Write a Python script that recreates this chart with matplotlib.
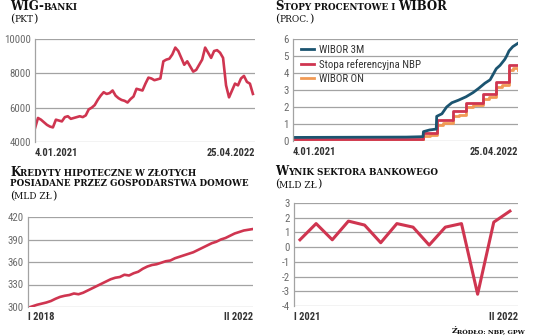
import numpy as np
import pandas as pd
import matplotlib
matplotlib.use("Agg")
import matplotlib.pyplot as plt
from matplotlib import font_manager

# --- data ---
wig_values = [4800, 5400, 5300, 5150, 5000, 4900, 4850, 5300, 5250, 5200,
              5450, 5500, 5350, 5400, 5450, 5500, 5450, 5550, 5900, 6000,
              6150, 6450, 6700, 6900, 6800, 6850, 7000, 6700, 6550, 6450,
              6400, 6300, 6500, 6650, 7100, 7050, 7000, 7400, 7750, 7700,
              7600, 7650, 7700, 8700, 8800, 8850, 9100, 9500, 9300, 8900,
              8500, 8700, 8400, 8100, 8200, 8500, 8800, 9500, 9200, 8900,
              9300, 9350, 9200, 8900, 7300, 6600, 7000, 7400, 7300, 7700,
              7850, 7500, 7400, 6800]

nbp_dates = ["2021-01-04", "2021-10-07", "2021-11-04", "2021-12-09", "2022-01-05",
             "2022-02-09", "2022-03-09", "2022-04-07", "2022-04-25"]
nbp_values = [0.1, 0.5, 1.25, 1.75, 2.25, 2.75, 3.5, 4.5, 4.5]

on_dates = ["2021-01-04", "2021-06-01", "2021-10-07", "2021-10-20", "2021-11-04",
            "2021-11-18", "2021-12-09", "2021-12-22", "2022-01-05", "2022-01-20",
            "2022-02-09", "2022-02-22", "2022-03-09", "2022-03-22", "2022-04-07",
            "2022-04-15", "2022-04-25"]
on_values = [0.02, 0.03, 0.3, 0.38, 0.95, 1.05, 1.45, 1.55, 2.0, 2.1,
             2.5, 2.6, 3.15, 3.3, 4.2, 4.3, 4.2]

w3m_dates = ["2021-01-04", "2021-09-01", "2021-09-30", "2021-10-06", "2021-10-07",
             "2021-10-20", "2021-11-03", "2021-11-04", "2021-11-15", "2021-11-25",
             "2021-12-06", "2021-12-20", "2022-01-05", "2022-01-20", "2022-02-01",
             "2022-02-14", "2022-02-25", "2022-03-03", "2022-03-10", "2022-03-18",
             "2022-03-28", "2022-04-01", "2022-04-06", "2022-04-14", "2022-04-25"]
w3m_values = [0.21, 0.23, 0.25, 0.26, 0.55, 0.65, 0.7, 1.45, 1.6, 2.0,
              2.25, 2.4, 2.6, 2.85, 3.1, 3.4, 3.6, 3.9, 4.25, 4.45,
              4.8, 5.0, 5.3, 5.55, 5.75]

mortgage = [299, 301, 303, 304.5, 306, 308, 311, 313.5, 315, 316,
            318, 317, 319, 322, 325, 328, 331, 334, 337, 339,
            340, 343, 342, 345, 347, 351, 354, 356, 357, 359,
            361, 362, 365, 367, 369, 371, 373, 376, 379, 382,
            385, 387, 390, 392, 395, 398, 400, 402, 403, 404]

bank_result = [0.5, 1.6, 0.5, 1.77, 1.5, 0.3, 1.6, 1.36, 0.14, 1.36,
               1.6, -3.2, 1.7, 2.45]

RED = "#cf3550"
TEAL = "#1b5470"
ORANGE = "#f19a55"
GRID = "#a3a3a3"
TICK = "#6a6a6a"

names = {f.name for f in font_manager.fontManager.ttflist}
sans = "DejaVu Sans"
for cand in ["Liberation Sans Narrow", "Roboto Condensed", "Open Sans Condensed", "Liberation Sans"]:
    if cand in names:
        sans = cand
        break
serif = "DejaVu Serif"

W, H = 536, 336
fig = plt.figure(figsize=(W / 100, H / 100), dpi=100)


def px_axes(l, t, r, b):
    return fig.add_axes([l / W, 1 - b / H, (r - l) / W, (b - t) / H])


def style(ax, yticks, lo_label, hi_label, xlo, xhi):
    ax.set_ylim(yticks[0], yticks[-1])
    ax.set_yticks(yticks)
    ax.set_yticklabels([str(v) for v in yticks], fontsize=7.8, color=TICK, family=sans)
    ax.tick_params(axis="y", length=0, pad=3)
    ax.grid(axis="y", color=GRID, lw=0.9)
    ax.set_axisbelow(True)
    for s in ["top", "right", "bottom"]:
        ax.spines[s].set_visible(False)
    ax.spines["left"].set_color(GRID)
    ax.spines["left"].set_linewidth(0.9)
    ax.set_xlim(xlo, xhi)
    ax.set_xticks([])
    ax.text(0, -0.055, lo_label, transform=ax.transAxes, ha="left", va="top",
            fontsize=7.6, color="#333333", family=sans, fontweight="bold")
    ax.text(1, -0.055, hi_label, transform=ax.transAxes, ha="right", va="top",
            fontsize=7.6, color="#333333", family=sans, fontweight="bold")


renderer = fig.canvas.get_renderer()


def text_w(s, size, weight):
    t = fig.text(0, 0, s + "I", fontsize=size, family=serif, fontweight=weight)
    t2 = fig.text(0, 0, "I", fontsize=size, family=serif, fontweight=weight)
    w = t.get_window_extent(renderer).width - t2.get_window_extent(renderer).width
    t.remove()
    t2.remove()
    return w


def smallcaps(x, y, segments, big, small, weight="bold", color="#111111", right=False):
    # segments: list of (text, is_big); y is the baseline in px from the top
    sizes = [(s if b else s.upper(), big if b else small) for s, b in segments]
    widths = [text_w(s, sz, weight) for s, sz in sizes]
    if right:
        x = x - sum(widths)
    for (s, sz), w in zip(sizes, widths):
        fig.text(x / W, 1 - y / H, s, fontsize=sz, family=serif, fontweight=weight,
                 color=color, va="baseline", ha="left")
        x += w


# panel 1: WIG-banki
ax1 = px_axes(35, 39, 255, 142)
wig_x = np.arange(len(wig_values))
ax1.plot(wig_x, wig_values, color=RED, lw=1.9, solid_joinstyle="round")
style(ax1, [4000, 6000, 8000, 10000], "4.01.2021", "25.04.2022", 0, len(wig_values) - 0.3)
smallcaps(10, 10, [("WIG-", True), ("banki", False)], 8.5, 6.3)
smallcaps(10, 22, [("(", True), ("pkt", False), (")", True)], 8, 6.5, weight="normal")

# panel 2: rates
ax2 = px_axes(293, 39, 518, 141)
ax2.plot(pd.to_datetime(on_dates), on_values, color=ORANGE, lw=2, drawstyle="steps-post",
         label="WIBOR ON")
ax2.plot(pd.to_datetime(nbp_dates), nbp_values, color=RED, lw=2, drawstyle="steps-post",
         label="Stopa referencyjna NBP")
ax2.plot(pd.to_datetime(w3m_dates), w3m_values, color=TEAL, lw=2, label="WIBOR 3M")
style(ax2, [0, 1, 2, 3, 4, 5, 6], "4.01.2021", "25.04.2022",
      pd.Timestamp("2021-01-04"), pd.Timestamp("2022-04-25"))
h, l = ax2.get_legend_handles_labels()
ax2.legend(h[::-1], l[::-1], loc="upper left", frameon=False, prop={"family": sans, "size": 7.8},
           handlelength=1.2, handletextpad=0.5, labelspacing=0.4,
           bbox_to_anchor=(0.0, 1.02), borderaxespad=0.3, labelcolor="#333333")
smallcaps(275, 10, [("S", True), ("topy procentowe i ", False), ("WIBOR", True)], 8.5, 6.3)
smallcaps(275, 22, [("(", True), ("proc.", False), (")", True)], 8, 6.5, weight="normal")

# panel 3: mortgages
ax3 = px_axes(28, 217, 253, 307)
ax3.plot(np.arange(len(mortgage)), mortgage, color=RED, lw=1.9)
style(ax3, [300, 330, 360, 390, 420], "I 2018", "II 2022", 0, len(mortgage) - 1)
smallcaps(10, 175.5, [("K", True), ("redyty hipoteczne w złotych", False)], 8.5, 6.3)
smallcaps(10, 186.5, [("posiadane przez gospodarstwa domowe", False)], 8.5, 6.3)
smallcaps(10, 199, [("(", True), ("mld zł", False), (")", True)], 8, 6.5, weight="normal")

# panel 4: bank result
ax4 = px_axes(294, 203, 518, 306)
ax4.plot(np.arange(len(bank_result)), bank_result, color=RED, lw=2.2)
style(ax4, [-4, -3, -2, -1, 0, 1, 2, 3], "I 2021", "II 2022", -0.37, len(bank_result) - 0.5)
smallcaps(275, 175, [("W", True), ("ynik sektora bankowego", False)], 8.5, 6.3)
smallcaps(275, 187.5, [("(", True), ("mld zł", False), (")", True)], 8, 6.5, weight="normal")

smallcaps(525, 333, [("Ź", True), ("ródło: NBP, GPW", False)], 5.8, 4.6, right=True)

fig.savefig("out.png", dpi=100)
